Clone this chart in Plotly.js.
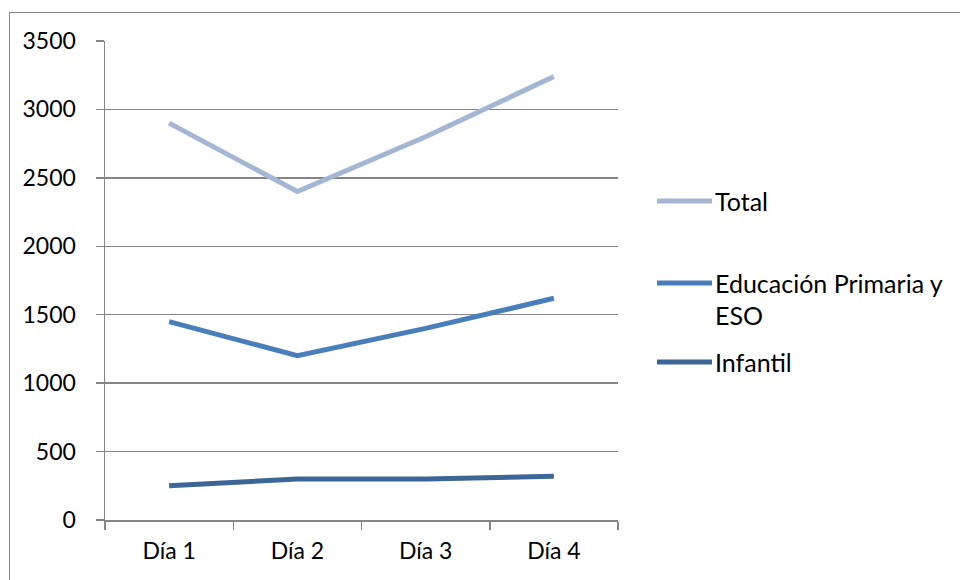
<!DOCTYPE html>
<html><head><meta charset="utf-8">
<script src="https://cdn.plot.ly/plotly-3.0.1.min.js"></script>
<style>
html,body{margin:0;padding:0;background:#fff;}
#wrap{position:relative;width:960px;height:580px;overflow:hidden;}
#frame{position:absolute;left:9px;top:12px;width:1000px;height:700px;border:1.5px solid #868686;box-sizing:border-box;pointer-events:none;z-index:5;}
#chart{position:absolute;left:0;top:0;width:960px;height:580px;}
</style></head>
<body><div id="wrap"><div id="chart"></div><div id="frame"></div></div>
<script>
const categories = ["Día 1", "Día 2", "Día 3", "Día 4"];
const seriesNames = ["Total", "Educación Primaria y<br>ESO", "Infantil"];
const totalValues = [2900, 2400, 2800, 3240];
const primariaValues = [1450, 1200, 1400, 1620];
const infantilValues = [250, 300, 300, 320];
const yTicks = [0, 500, 1000, 1500, 2000, 2500, 3000, 3500];

const colors = ["#A5B6D3", "#4A7EBB", "#3C6696"];
const seriesValues = [totalValues, primariaValues, infantilValues];

const W = 960, H = 580;
const L = 105, R = 618, T = 41, B = 520;
const font = {family: "Lato, 'Open Sans', sans-serif", size: 23, color: "#000"};
const legendFont = {family: "Lato, 'Open Sans', sans-serif", size: 25, color: "#000"};

const traces = seriesValues.map((vals, i) => ({
  type: "scatter", mode: "lines", x: categories, y: vals,
  name: seriesNames[i], showlegend: false,
  line: {color: colors[i], width: 5}, hoverinfo: "skip"
}));

const px2x = p => (p - L) / (R - L);
const px2y = p => (B - p) / (B - T);
const legendY = [201, 283, 362];
const lineH = 32;
const shapes = [], annotations = [];
seriesNames.forEach((n, i) => {
  shapes.push({type: "line", xref: "paper", yref: "paper",
    x0: px2x(657), x1: px2x(712), y0: px2y(legendY[i]), y1: px2y(legendY[i]),
    line: {color: colors[i], width: 5}});
  n.split("<br>").forEach((part, k) => {
    annotations.push({xref: "paper", yref: "paper", x: px2x(713), y: px2y(legendY[i] + k * lineH),
      xanchor: "left", yanchor: "middle", text: part, showarrow: false, font: legendFont});
  });
});

const layout = {
  width: W, height: H,
  margin: {l: L, r: W - R, t: T, b: H - B, pad: 0},
  paper_bgcolor: "#fff", plot_bgcolor: "#fff",
  font: font,
  xaxis: {type: "category", range: [-0.5, 3.5], tickson: "boundaries", ticks: "outside",
    ticklen: 8, tickwidth: 1.5, tickcolor: "#868686", showline: true, linecolor: "#868686", linewidth: 1.5,
    showgrid: false, zeroline: false, tickfont: font, ticklabelstandoff: 10, fixedrange: true},
  yaxis: {range: [0, 3500], tickvals: yTicks, ticktext: yTicks.map(String), ticks: "outside",
    ticklen: 8, tickwidth: 1.5, tickcolor: "#868686", showline: true, linecolor: "#868686", linewidth: 1.5,
    showgrid: true, gridcolor: "#868686", gridwidth: 1.5, zeroline: false, tickfont: font,
    ticklabelstandoff: 15, fixedrange: true},
  shapes: shapes, annotations: annotations
};
Plotly.newPlot("chart", traces, layout, {staticPlot: true, displayModeBar: false});
</script></body></html>
